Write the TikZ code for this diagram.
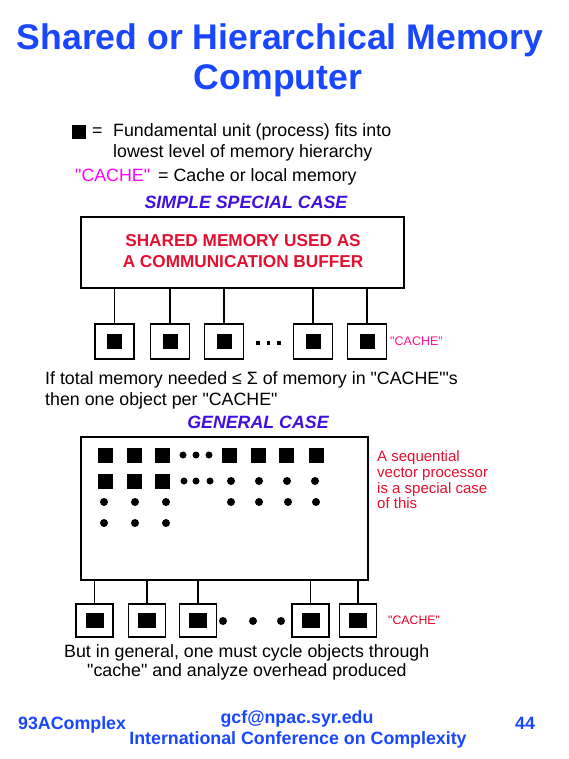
\documentclass[tikz,border=0pt]{standalone}
\usepackage{fontspec}
\newfontfamily\lib{Liberation Sans}
\definecolor{titleblue}{RGB}{25,70,255}
\definecolor{subpurple}{RGB}{64,16,224}
\definecolor{memred}{RGB}{228,16,48}
\definecolor{legmag}{RGB}{255,0,255}
\definecolor{cachepink}{RGB}{255,20,140}
\definecolor{cachered}{RGB}{225,0,30}
\tikzset{
  body/.style={inner sep=0pt, font=\lib\fontsize{17.8}{20}\selectfont, text=black},
  subhead/.style={inner sep=0pt, font=\lib\fontsize{17.8}{20}\selectfont\bfseries\itshape, text=subpurple},
  foot/.style={inner sep=0pt, font=\lib\fontsize{17.8}{20}\selectfont\bfseries, text=titleblue},
  bigbox/.style={draw, line width=1.8pt, inner sep=0pt},
  cachebox/.style={draw, line width=1.6pt, inner sep=0pt, minimum width=39pt, minimum height=35pt},
  cacheboxb/.style={draw, line width=1.4pt, inner sep=0pt, minimum width=37pt, minimum height=33pt},
  unit/.style={fill=black, inner sep=0pt, minimum width=15pt, minimum height=15pt},
  unitb/.style={fill=black, inner sep=0pt, minimum width=18pt, minimum height=15pt},
  link/.style={line width=1.4pt},
  obj/.style={fill=black, circle, inner sep=0pt, minimum size=8pt},
  sobj/.style={fill=black, circle, inner sep=0pt, minimum size=7pt},
  note/.style={inner sep=0pt, font=\lib\fontsize{15}{16}\selectfont, text=memred, anchor=base west},
}
\begin{document}
\begin{tikzpicture}[x=1pt,y=-1pt]
\useasboundingbox (0,0) rectangle (569,759);
\fill[white] (0,0) rectangle (569,759);
% title
\node[anchor=base, inner sep=0pt, font=\lib\fontsize{35.6}{40}\selectfont\bfseries, text=titleblue] (t1) at (280,50) {Shared or Hierarchical Memory};
\node[anchor=base, inner sep=0pt, font=\lib\fontsize{35.6}{40}\selectfont\bfseries, text=titleblue] (t2) at (278,90) {Computer};
% legend
\node[fill=black, inner sep=0pt, minimum size=14pt, anchor=north west] (lsq) at (72,125) {};
\node[body, anchor=base west] (leq) at (92,137) {=};
\node[body, anchor=base west] (l1) at (113,137) {Fundamental unit (process) fits into};
\node[body, anchor=base west] (l2) at (113,158) {lowest level of memory hierarchy};
\node[body, anchor=base west, text=legmag] (l3a) at (75,182) {"CACHE"};
\node[body, anchor=base west] (l3b) at (158,182) {= Cache or local memory};
\node[subhead, anchor=base] (s1) at (246,208) {SIMPLE SPECIAL CASE};
% shared memory box
\node[bigbox, minimum width=323pt, minimum height=71pt, anchor=north west] (mem) at (80,216) {};
\node[inner sep=0pt, font=\lib\fontsize{17.2}{21}\selectfont\bfseries, text=memred, anchor=base] (mt1) at (243,246) {SHARED MEMORY USED AS};
\node[inner sep=0pt, font=\lib\fontsize{17.2}{21}\selectfont\bfseries, text=memred, anchor=base] (mt2) at (243,267) {A COMMUNICATION BUFFER};
% caches row 1
\foreach \i/\x in {1/114.5,2/170,3/224,4/313,5/367}{
  \node[cachebox] (c\i) at (\x,341.5) {};
  \node[unit] (u\i) at (c\i.center) {};
  \draw[link] (c\i.north) -- (c\i.north |- mem.south);
}
\foreach \i/\x in {1/258,2/268.5,3/279}{
  \node[fill=black, inner sep=0pt, minimum size=3.2pt] (d\i) at (\x,343) {};
}
\node[inner sep=0pt, font=\lib\fontsize{12.5}{14}\selectfont, text=cachepink, anchor=base west] (cl1) at (390,345) {"CACHE"};
\node[body, anchor=base west] (p1) at (45,384) {If total memory needed ≤ Σ of memory in "CACHE"'s};
\node[body, anchor=base west] (p2) at (45,405) {then one object per "CACHE"};
\node[subhead, anchor=base] (s2) at (258,428) {GENERAL CASE};
% general box
\node[bigbox, minimum width=287pt, minimum height=143pt, anchor=north west] (gen) at (80,436) {};
% row 1
\foreach \x in {105,134,162,229,258,286,316}{ \node[unit] at (\x,455) {}; }
\foreach \x in {183,196,209}{ \node[sobj] at (\x,455) {}; }
% row 2
\foreach \x in {105,134,162}{ \node[unit] at (\x,481) {}; }
\foreach \x in {184,196,210}{ \node[sobj] at (\x,481) {}; }
\foreach \x in {231,259,287,315}{ \node[obj] at (\x,481) {}; }
% row 3
\foreach \x in {104,135,166,231,259,288,316}{ \node[obj] at (\x,502) {}; }
% row 4
\foreach \x in {104,135,166}{ \node[obj] at (\x,523) {}; }
% side note
\node[note] (n1) at (377,461) {A sequential};
\node[note] (n2) at (377,477) {vector processor};
\node[note] (n3) at (377,493) {is a special case};
\node[note] (n4) at (377,508) {of this};
% caches row 2
\foreach \i/\x in {1/94.5,2/147,3/198,4/310.5,5/358}{
  \node[cacheboxb] (b\i) at (\x,620.5) {};
  \node[unitb] (v\i) at (b\i.center) {};
  \draw[link, line width=1.2pt] (b\i.north) -- (b\i.north |- gen.south);
}
\foreach \i/\x in {1/223,2/253,3/281}{
  \node[obj] (e\i) at (\x,621) {};
}
\node[inner sep=0pt, font=\lib\fontsize{12.3}{14}\selectfont, text=cachered, anchor=base west] (cl2) at (388,624) {"CACHE"};
\node[body, anchor=base west] (q1) at (64,657) {But in general, one must cycle objects through};
\node[body, anchor=base west] (q2) at (87,676) {"cache" and analyze overhead produced};
% footer
\node[foot, anchor=base west] (f1) at (18,729) {93AComplex};
\node[foot, anchor=base] (f2) at (297,723) {gcf@npac.syr.edu};
\node[foot, anchor=base] (f3) at (298,744) {International Conference on Complexity};
\node[foot, anchor=base west] (f4) at (515,729) {44};
\end{tikzpicture}
\end{document}
